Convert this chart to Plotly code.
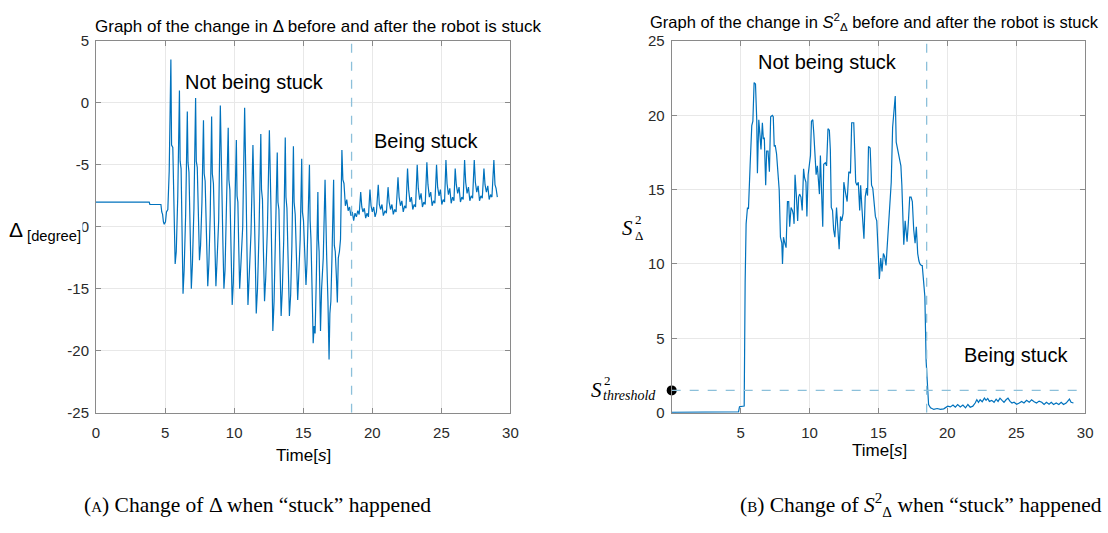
import plotly.graph_objects as go

# ---------------- Panel A: delta [degree] over time ----------------
# robot standing still
idle_t = [0.0, 3.85, 3.90, 4.70, 4.76, 4.82, 4.88, 4.94, 5.03, 5.10, 5.20, 5.30]
idle_v = [-8.0, -8.0, -8.2, -8.2, -8.8, -9.0, -9.6, -9.8, -9.6, -8.8, -8.6, -5.5]

# walking, not stuck (large oscillation)
walk_t = [5.42, 5.47, 5.56, 5.65, 5.73, 5.81, 5.92,
          6.04, 6.09, 6.16, 6.23, 6.30, 6.38, 6.49,
          6.61, 6.66, 6.73, 6.81, 6.90, 6.98, 7.09,
          7.21, 7.26, 7.33, 7.41, 7.49, 7.57, 7.67,
          7.78, 7.83, 7.90, 8.00, 8.09, 8.17, 8.27,
          8.37, 8.42, 8.50, 8.59, 8.68, 8.76, 8.88,
          9.00, 9.05, 9.11, 9.18, 9.26, 9.34, 9.45,
          9.57, 9.62, 9.69, 9.77, 9.86, 9.94, 10.05,
          10.16, 10.21, 10.27, 10.33, 10.40, 10.49, 10.62,
          10.76, 10.81, 10.87, 10.93, 11.00, 11.09, 11.22,
          11.36, 11.41, 11.47, 11.53, 11.60, 11.69, 11.80,
          11.93, 11.98, 12.05, 12.12, 12.20, 12.29, 12.41,
          12.55, 12.60, 12.66, 12.73, 12.80, 12.89, 13.00,
          13.12, 13.17, 13.24, 13.32, 13.40, 13.49, 13.59,
          13.70, 13.75, 13.82, 13.91, 14.00, 14.09, 14.18,
          14.29, 14.34, 14.42, 14.51, 14.60, 14.69, 14.78,
          14.89, 14.94, 15.02, 15.11, 15.20, 15.27, 15.35,
          15.45, 15.50, 15.56, 15.64, 15.72, 15.79, 15.86, 15.95,
          16.06, 16.10, 16.15, 16.20, 16.25, 16.33, 16.45,
          16.58, 16.63, 16.70, 16.79, 16.87, 16.93, 17.00, 17.08,
          17.20, 17.25, 17.32, 17.40, 17.47, 17.54, 17.62, 17.70,
          17.80]
walk_v = [3.5, -3.4, -3.6, -7.8, -13.0, -12.0, -7.5,
          1.0, -4.7, -5.3, -10.0, -15.4, -13.5, -9.0,
          -0.7, -4.8, -5.6, -10.0, -15.0, -13.0, -8.5,
          0.4, -4.7, -5.2, -9.0, -12.7, -11.5, -8.0,
          -1.4, -5.7, -6.3, -10.5, -14.8, -13.0, -9.0,
          -1.1, -5.7, -6.5, -10.5, -14.8, -12.8, -9.5,
          -0.2, -6.0, -6.8, -11.0, -15.0, -13.5, -9.0,
          -2.0, -6.2, -7.0, -11.5, -16.3, -14.5, -9.5,
          -3.0, -7.5, -8.0, -11.5, -15.0, -13.0, -10.0,
          -0.4, -6.4, -7.5, -12.0, -16.3, -14.0, -10.5,
          -3.4, -7.2, -8.0, -12.5, -17.0, -15.0, -10.5,
          -2.5, -7.0, -7.8, -12.0, -16.0, -14.0, -10.0,
          -2.2, -7.4, -8.2, -13.0, -18.4, -16.0, -11.0,
          -4.0, -8.0, -8.6, -13.0, -17.2, -15.0, -11.0,
          -2.8, -7.6, -8.5, -13.0, -17.2, -15.5, -11.5,
          -3.5, -8.0, -9.0, -12.5, -15.9, -13.5, -11.0,
          -4.5, -8.8, -9.5, -12.0, -14.7, -13.0, -10.0,
          -5.0, -9.5, -11.0, -15.0, -19.4, -18.0, -18.6, -14.0,
          -7.2, -11.0, -12.0, -15.0, -18.4, -15.0, -12.5,
          -6.2, -10.0, -12.5, -16.0, -20.7, -17.0, -16.0, -12.5,
          -6.2, -11.5, -12.0, -14.0, -16.1, -12.5, -12.0, -11.0,
          -3.8]

# stuck (small oscillation)
stuck_t = [17.87, 17.95, 18.05, 18.15, 18.25, 18.35, 18.45, 18.55, 18.65, 18.75,
           18.85, 18.95, 19.05,
           19.16, 19.24, 19.32, 19.42, 19.52, 19.62, 19.72,
           19.83, 19.91, 20.00, 20.10, 20.20, 20.30,
           20.43, 20.51, 20.60, 20.70, 20.80, 20.92, 21.02,
           21.14, 21.22, 21.32, 21.42, 21.52, 21.62, 21.72,
           21.86, 21.94, 22.04, 22.14, 22.24, 22.34, 22.44,
           22.55, 22.63, 22.73, 22.83, 22.93, 23.03, 23.13,
           23.25, 23.33, 23.43, 23.53, 23.63, 23.73, 23.83,
           23.95, 24.03, 24.13, 24.23, 24.33, 24.43, 24.53,
           24.65, 24.73, 24.83, 24.93, 25.03, 25.13, 25.23,
           25.33, 25.41, 25.51, 25.61, 25.71, 25.81, 25.91,
           26.00, 26.08, 26.18, 26.28, 26.38, 26.48, 26.58,
           26.68, 26.76, 26.86, 26.96, 27.06, 27.16, 27.26,
           27.38, 27.46, 27.56, 27.66, 27.76, 27.86, 27.96,
           28.08, 28.16, 28.26, 28.36, 28.46, 28.56, 28.66,
           28.80, 28.88, 28.96, 29.05]
stuck_v = [-6.2, -6.5, -8.3, -7.8, -8.7, -8.4, -9.1, -8.8, -9.5, -8.9,
           -9.2, -8.7, -9.0,
           -7.2, -8.4, -8.8, -8.5, -9.3, -8.9, -9.2,
           -7.0, -8.3, -8.8, -8.4, -9.2, -8.8,
           -6.6, -8.2, -8.6, -8.2, -9.1, -8.7, -8.9,
           -6.8, -8.0, -8.6, -8.2, -9.0, -8.6, -8.8,
           -6.0, -7.6, -8.3, -7.9, -8.8, -8.3, -8.5,
           -5.3, -7.0, -8.0, -7.6, -8.6, -8.2, -8.4,
           -5.0, -6.9, -7.8, -7.3, -8.4, -8.0, -8.2,
           -4.8, -6.6, -7.6, -7.2, -8.3, -7.9, -8.1,
           -5.0, -6.8, -7.5, -7.0, -8.2, -7.8, -8.0,
           -4.6, -6.5, -7.4, -6.9, -8.1, -7.6, -7.9,
           -5.3, -6.6, -7.3, -6.8, -8.0, -7.6, -7.8,
           -4.6, -6.4, -7.3, -6.8, -7.9, -7.5, -7.7,
           -4.6, -6.4, -7.2, -6.7, -7.9, -7.5, -7.7,
           -5.3, -6.6, -7.2, -6.7, -7.8, -7.4, -7.6,
           -4.6, -6.6, -6.9, -7.6]

# ---------------- Panel B: S^2 of delta over time ----------------
s2_t = [0.0, 4.85, 4.92, 5.26, 5.33, 5.40, 5.50, 5.57, 5.69, 5.81, 5.89, 5.98,
        6.08, 6.17, 6.22, 6.32, 6.41, 6.48, 6.58, 6.65, 6.72, 6.82, 6.89, 6.99,
        7.09, 7.18, 7.30, 7.37, 7.44, 7.51, 7.61, 7.73, 7.80, 7.89, 7.99, 8.04,
        8.11, 8.21, 8.30, 8.40, 8.49, 8.56, 8.66, 8.76, 8.83, 8.88, 8.95, 9.04,
        9.14, 9.21, 9.28, 9.38, 9.47, 9.57, 9.64, 9.74, 9.81, 9.90, 10.00, 10.07,
        10.14, 10.24, 10.31, 10.38, 10.48, 10.57, 10.67, 10.72, 10.79, 10.86, 10.96,
        11.03, 11.15, 11.24, 11.34, 11.44, 11.51, 11.58, 11.67, 11.75, 11.84, 11.96,
        12.06, 12.15, 12.25, 12.34, 12.44, 12.49, 12.61, 12.73, 12.85, 12.97, 13.06,
        13.21, 13.30, 13.35, 13.44, 13.54, 13.64, 13.71, 13.80, 13.88, 13.95, 14.04,
        14.14, 14.21, 14.28, 14.40, 14.50, 14.59, 14.69, 14.78, 14.88, 14.98, 15.07,
        15.17, 15.26, 15.36, 15.45, 15.55, 15.65, 15.79, 15.93, 16.03, 16.12, 16.22,
        16.29, 16.36, 16.46, 16.56, 16.63, 16.70, 16.79, 16.84, 16.94, 17.01, 17.08,
        17.18, 17.27, 17.37, 17.46, 17.56, 17.66, 17.75, 17.85, 17.94, 18.01, 18.11,
        18.18, 18.28, 18.37, 18.46, 18.55, 18.64, 18.78, 19.02, 19.26, 19.50, 19.74,
        19.88, 20.03, 20.22, 20.41, 20.58, 20.75, 20.94, 21.13, 21.32, 21.49, 21.66,
        21.85, 22.02, 22.14, 22.26, 22.38, 22.53, 22.69, 22.81, 22.93, 23.05, 23.22,
        23.39, 23.54, 23.68, 23.82, 23.97, 24.11, 24.26, 24.40, 24.55, 24.69, 24.84,
        25.03, 25.22, 25.39, 25.56, 25.75, 25.94, 26.11, 26.30, 26.47, 26.66, 26.85,
        27.02, 27.19, 27.38, 27.54, 27.71, 27.90, 28.09, 28.26, 28.43, 28.62, 28.86,
        28.98, 29.15]
s2_v = [0.02, 0.05, 0.4, 0.45, 8.8, 12.7, 13.8, 13.7, 16.6, 19.3, 19.6, 22.2,
        22.1, 19.7, 16.1, 19.7, 18.6, 17.7, 19.5, 18.4, 18.5, 15.3, 17.6, 17.6,
        16.2, 19.9, 20.0, 19.9, 17.9, 18.0, 17.4, 15.3, 15.0, 11.8, 11.4, 10.0,
        11.8, 11.4, 11.1, 14.2, 14.2, 12.5, 13.8, 13.6, 13.3, 12.7, 16.0, 14.7,
        12.9, 14.5, 14.7, 14.5, 13.6, 16.4, 15.8, 15.5, 13.2, 16.0, 16.7, 17.3,
        19.6, 19.7, 18.8, 17.3, 16.0, 16.6, 15.5, 14.7, 17.3, 14.9, 12.5,
        16.7, 16.8, 16.6, 19.1, 19.0, 17.7, 13.8, 13.6, 12.3, 11.8, 13.8,
        12.5, 11.0, 13.2, 12.9, 13.4, 15.5, 14.8, 14.2, 16.2, 16.1, 19.5,
        19.5, 17.1, 15.5, 15.3, 15.5, 13.6, 15.3, 13.8, 12.7, 11.7, 14.5,
        15.1, 14.6, 17.9, 17.8, 15.3, 15.1, 14.2, 13.2, 12.9, 10.7, 9.0,
        10.4, 9.5, 10.7, 10.5, 9.9, 11.2, 13.6, 15.5, 19.2, 20.3, 21.3,
        18.2, 17.9, 17.3, 16.8, 16.6, 15.3, 13.2, 11.3, 12.9, 12.1, 11.5,
        12.9, 14.5, 14.5, 14.2, 12.3, 11.4, 12.5, 10.7, 10.2, 10.0, 9.9,
        9.9, 8.8, 7.8, 3.5, 1.95, 0.55, 0.33, 0.22, 0.28, 0.22, 0.26,
        0.37, 0.44, 0.39, 0.52, 0.37, 0.55, 0.39, 0.52, 0.33, 0.55, 0.37,
        0.44, 0.65, 0.87, 0.70, 0.87, 0.74, 0.98, 0.83, 0.96, 0.76, 0.83,
        0.70, 0.91, 0.76, 0.98, 0.83, 0.70, 0.87, 0.98, 0.76, 0.65, 0.70,
        0.57, 0.65, 0.76, 0.65, 0.83, 0.70, 0.87, 0.74, 0.65, 0.78, 0.70,
        0.55, 0.70, 0.57, 0.70, 0.55, 0.65, 0.55, 0.70, 0.55, 0.65, 0.91,
        0.70, 0.65]

stuck_time = 18.5      # moment the robot got stuck
s2_threshold = 1.5

left_yticks = [-25, -20, -15, -10, -5, 0, 5]
left_ylabels = ["-25", "-20", "-15", "-10", "-5", "0", "5"]
left_xticks = [0, 5, 10, 15, 20, 25, 30]
right_yticks = [0, 5, 10, 15, 20, 25]
right_xticks = [5, 10, 15, 20, 25, 30]

W, H = 1108, 533
LINE = "#0072BD"
DASH = "#8cc0da"
SANS = "Liberation Sans, Arial, sans-serif"
SERIF = "Liberation Serif, Times New Roman, serif"


def px(x):
    return x / W


def py(y):
    return (H - y) / H


fig = go.Figure()
fig.add_trace(go.Scatter(x=idle_t + walk_t + stuck_t, y=idle_v + walk_v + stuck_v,
                         mode="lines", line=dict(color=LINE, width=1.2),
                         xaxis="x", yaxis="y", showlegend=False))
fig.add_trace(go.Scatter(x=s2_t, y=s2_v, mode="lines",
                         line=dict(color=LINE, width=1.2),
                         xaxis="x2", yaxis="y2", showlegend=False))
# threshold marker on the y axis
fig.add_trace(go.Scatter(x=[0], y=[s2_threshold], mode="markers",
                         marker=dict(color="black", size=10), cliponaxis=False,
                         xaxis="x2", yaxis="y2", showlegend=False))

axis_common = dict(showline=True, linecolor="#8a8a8a", linewidth=1, mirror="ticks",
                   ticks="inside", ticklen=5, tickcolor="#8a8a8a",
                   showgrid=True, gridcolor="#e8e8e8", gridwidth=1, zeroline=False,
                   tickfont=dict(family=SANS, size=15, color="#2a2a2a"))

fig.update_layout(
    width=W, height=H, margin=dict(l=0, r=0, t=0, b=0),
    paper_bgcolor="white", plot_bgcolor="white",
    xaxis=dict(domain=[px(93), px(512)], range=[0, 30], tickvals=left_xticks,
               anchor="y", ticklabelstandoff=6, **axis_common),
    yaxis=dict(domain=[py(417), py(33)], range=[-25, 5], tickvals=left_yticks,
               ticktext=left_ylabels, anchor="x", ticklabelstandoff=3, **axis_common),
    xaxis2=dict(domain=[px(675), px(1093)], range=[0, 30], tickvals=right_xticks,
                anchor="y2", ticklabelstandoff=6, **axis_common),
    yaxis2=dict(domain=[py(417), py(33)], range=[0, 25], tickvals=right_yticks,
                anchor="x2", ticklabelstandoff=3, **axis_common),
    shapes=[
        dict(type="line", xref="x", yref="y", x0=stuck_time, x1=stuck_time, y0=-25, y1=5,
             line=dict(color=DASH, width=1.3, dash="dash")),
        dict(type="line", xref="x2", yref="y2", x0=stuck_time, x1=stuck_time, y0=0, y1=25,
             line=dict(color=DASH, width=1.3, dash="dash")),
        dict(type="line", xref="x2", yref="y2", x0=0, x1=30, y0=s2_threshold, y1=s2_threshold,
             line=dict(color=DASH, width=1.3, dash="dash")),
    ],
)

ann = []


def text(x, y, s, size, family=SANS, xanchor="center", yanchor="middle", **kw):
    ann.append(dict(x=x, y=y, xref="paper", yref="paper", text=s, showarrow=False,
                    xanchor=xanchor, yanchor=yanchor,
                    font=dict(family=family, size=size, color="black"), **kw))


# panel titles
text(px(318), py(18), "Graph of the change in \u0394 before and after the robot is stuck", 17)
text(px(880), py(13), "Graph of the change in <i>S</i><sup>2</sup><sub>\u0394</sub> before and after the robot is stuck", 16.5)

# region labels
ann.append(dict(x=11.5, y=1.7, xref="x", yref="y", text="Not being stuck", showarrow=False,
                font=dict(family=SANS, size=20, color="black")))
ann.append(dict(x=23.9, y=-3.1, xref="x", yref="y", text="Being stuck", showarrow=False,
                font=dict(family=SANS, size=20, color="black")))
ann.append(dict(x=11.3, y=23.6, xref="x2", yref="y2", text="Not being stuck", showarrow=False,
                font=dict(family=SANS, size=20, color="black")))
ann.append(dict(x=25.0, y=3.9, xref="x2", yref="y2", text="Being stuck", showarrow=False,
                font=dict(family=SANS, size=20, color="black")))

# axis titles
text(px(80), py(229), "\u0394<sub> [degree]</sub>", 21, xanchor="right", bgcolor="white")
# S^2_Delta with the exponent stacked over the subscript
text(px(638), py(226), "<i>S</i>", 21, family=SERIF, xanchor="right")
text(px(636), py(217), "2", 13, family=SERIF, xanchor="left")
text(px(636), py(234), "\u0394", 13, family=SERIF, xanchor="left")
# S^2_threshold next to the marker
text(px(607), py(394), "<i>S</i>", 21, family=SERIF, xanchor="right")
text(px(605), py(384), "2", 13, family=SERIF, xanchor="left")
text(px(604), py(399), "<i>threshold</i>", 14, family=SERIF, xanchor="left")
text(px(303), py(461), "Time[<i>s</i>]", 17)
text(px(885), py(456), "Time[<i>s</i>]", 17)

# captions
text(px(256), py(512), "(<span style='font-size:15px'>A</span>) Change of \u0394 when \u201cstuck\u201d happened",
     21.5, family=SERIF)
text(px(927), py(512), "(<span style='font-size:15px'>B</span>) Change of <i>S</i><sup>2</sup><sub>\u0394</sub> when \u201cstuck\u201d happened",
     21.5, family=SERIF)

fig.update_layout(annotations=ann)
fig.write_html("out.html")
